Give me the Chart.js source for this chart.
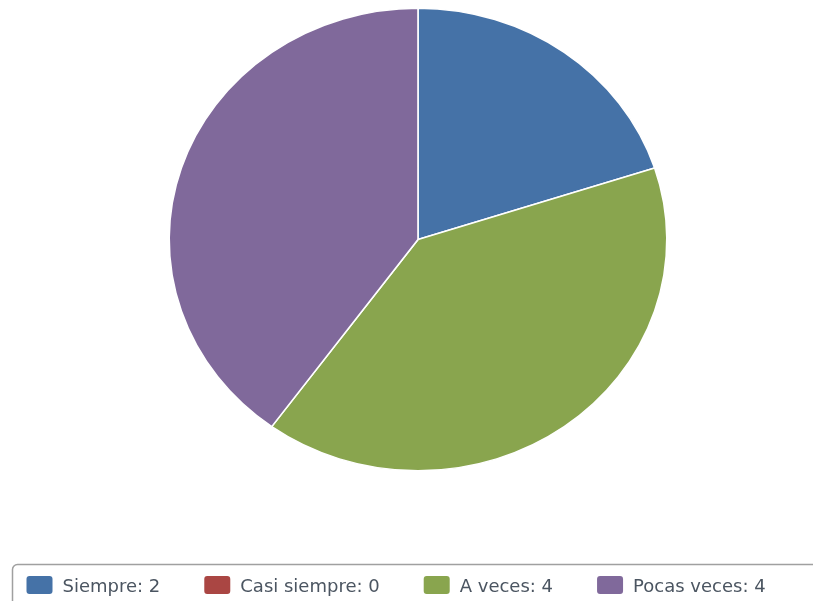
<!DOCTYPE html>
<html>
<head>
<meta charset="utf-8">
<script src="https://cdn.jsdelivr.net/npm/chart.js@4/dist/chart.umd.min.js"></script>
<style>
  html, body { margin: 0; padding: 0; background: #fff; }
  #wrap { width: 813px; height: 601px; position: relative; }
</style>
</head>
<body>
<div id="wrap"><canvas id="c" width="813" height="601"></canvas></div>
<script>
// Survey answers and how many responses each received
const categories = ['Siempre', 'Casi siempre', 'A veces', 'Pocas veces'];
const counts = [2, 0, 4, 4];
const sliceColors = ['#4572a7', '#aa4643', '#89a54e', '#80699b'];

// Horizontal stretch applied to the pie drawing
const PIE_STRETCH_X = 1.076;

const stretchPie = {
  id: 'stretchPie',
  beforeDatasetsDraw(chart) {
    const arc = chart.getDatasetMeta(0).data[0];
    const ctx = chart.ctx;
    ctx.save();
    ctx.translate(arc.x, 0);
    ctx.scale(PIE_STRETCH_X, 1);
    ctx.translate(-arc.x, 0);
  },
  afterDatasetsDraw(chart) {
    chart.ctx.restore();
  }
};

// Boxed legend along the bottom edge
const boxedLegend = {
  id: 'boxedLegend',
  afterDraw(chart) {
    const ctx = chart.ctx;
    const frameX = 12.5, frameY = 564.5, radius = 5;
    ctx.save();
    ctx.strokeStyle = '#a0a0a0';
    ctx.lineWidth = 1.5;
    ctx.beginPath();
    ctx.roundRect(frameX, frameY, 900, 100, radius);
    ctx.stroke();

    const boxW = 26, boxH = 18, boxTop = 576, textGap = 10, itemGap = 44, baseline = 592;
    ctx.font = '18px "DejaVu Sans", Verdana, sans-serif';
    ctx.textBaseline = 'alphabetic';
    ctx.textAlign = 'left';
    let x = 26.5;
    categories.forEach((name, i) => {
      ctx.fillStyle = sliceColors[i];
      ctx.beginPath();
      ctx.roundRect(x, boxTop, boxW, boxH, 3);
      ctx.fill();
      const label = name + ': ' + counts[i];
      ctx.fillStyle = '#4b5561';
      ctx.fillText(label, x + boxW + textGap, baseline);
      x += boxW + textGap + ctx.measureText(label).width + itemGap;
    });
    ctx.restore();
  }
};

new Chart(document.getElementById('c'), {
  type: 'pie',
  data: {
    labels: categories,
    datasets: [{
      data: counts,
      backgroundColor: sliceColors,
      borderColor: '#ffffff',
      borderWidth: 1.5,
      hoverOffset: 0
    }]
  },
  options: {
    responsive: false,
    animation: false,
    devicePixelRatio: 1,
    layout: { padding: { left: 186, right: 163, top: 7.5, bottom: 129.5 } },
    plugins: {
      legend: { display: false },
      tooltip: { enabled: false }
    }
  },
  plugins: [stretchPie, boxedLegend]
});
</script>
</body>
</html>
